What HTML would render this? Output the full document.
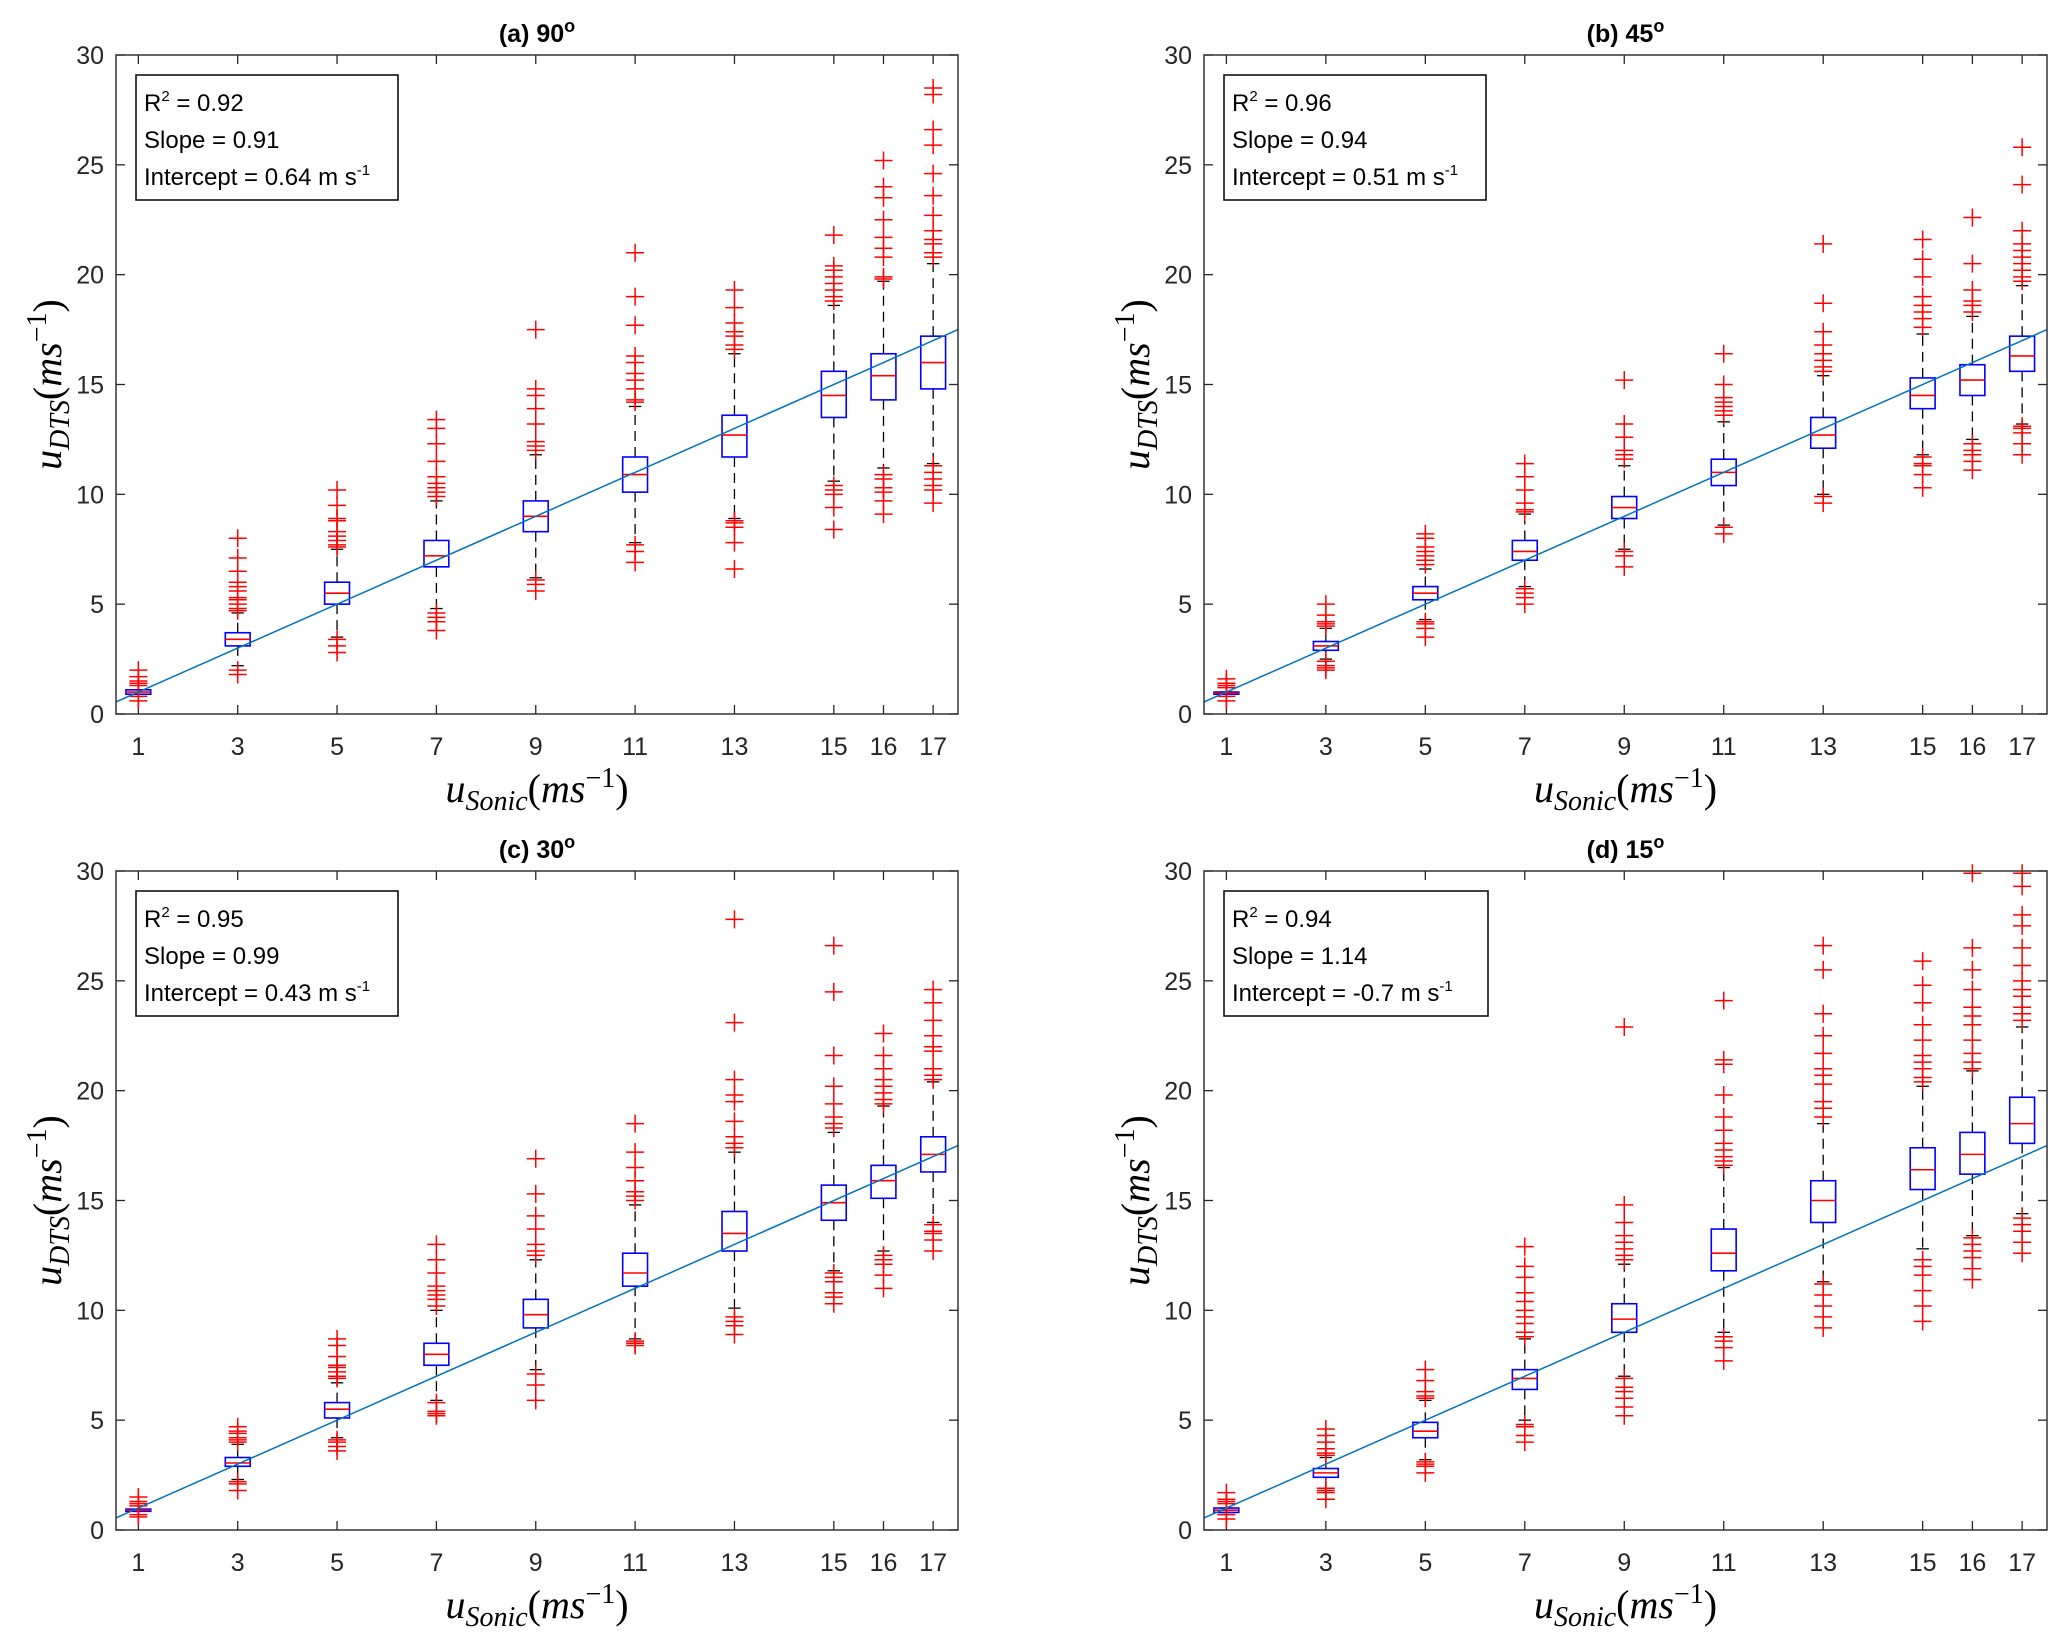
<!DOCTYPE html>
<html><head><meta charset="utf-8"><style>
html,body{margin:0;padding:0;background:#fff;}
svg{display:block;}
</style></head><body>
<svg id="fig" width="2067" height="1641" viewBox="0 0 2067 1641" xmlns="http://www.w3.org/2000/svg" font-family="Liberation Sans, sans-serif"></svg>
<script>
const cats = [1,3,5,7,9,11,13,15,16,17];
const yTicks = [0,5,10,15,20,25,30];
const titles = ["(a) 90","(b) 45","(c) 30","(d) 15"];
const r2Vals = ["0.92","0.96","0.95","0.94"];
const slopeVals = ["0.91","0.94","0.99","1.14"];
const interceptVals = ["0.64","0.51","0.43","-0.7"];
// panel a
const aQ1=[0.9,3.1,5.0,6.7,8.3,10.1,11.7,13.5,14.3,14.8];
const aMed=[1.0,3.4,5.5,7.2,9.0,10.9,12.7,14.5,15.4,16.0];
const aQ3=[1.1,3.7,6.0,7.9,9.7,11.7,13.6,15.6,16.4,17.2];
const aLo=[0.9,2.2,3.5,4.8,6.2,7.8,8.9,10.6,11.2,11.4];
const aHi=[1.1,4.6,7.5,9.7,11.8,14.0,16.4,18.6,19.7,20.5];
const aOut=[[0.6,0.8,1.3,1.4,1.5,1.7,2.0],[1.8,2.0,4.7,4.8,5.0,5.2,5.3,5.6,5.8,6.0,6.5,7.1,8.0],[2.8,3.1,3.4,7.6,7.7,7.9,8.1,8.3,8.8,8.9,9.5,10.2],[3.8,4.2,4.4,4.6,9.9,10.1,10.3,10.5,10.8,11.5,12.3,13.0,13.4],[5.6,5.9,6.1,12.0,12.2,12.4,13.2,13.9,14.5,14.8,17.5],[6.9,7.4,7.7,14.2,14.3,14.8,15.2,15.5,16.0,16.3,17.7,19.0,21.0],[6.6,7.8,8.5,8.7,8.8,16.6,16.8,17.2,17.4,17.8,18.5,19.3],[8.4,9.4,10.0,10.2,10.4,18.8,19.0,19.3,19.6,19.9,20.2,20.4,21.8],[9.1,9.7,10.1,10.3,10.7,10.9,19.8,19.9,20.8,21.2,21.7,22.5,23.5,24.0,25.2],[9.6,10.2,10.4,10.7,11.0,11.3,20.8,21.0,21.4,21.6,22.0,22.7,23.6,24.6,25.9,26.6,28.2,28.5]];
// panel b
const bQ1=[0.9,2.9,5.2,7.0,8.9,10.4,12.1,13.9,14.5,15.6];
const bMed=[0.95,3.1,5.5,7.4,9.4,11.0,12.7,14.5,15.2,16.3];
const bQ3=[1.0,3.3,5.8,7.9,9.9,11.6,13.5,15.3,15.9,17.2];
const bLo=[0.9,2.5,4.3,5.8,7.5,8.6,10.0,11.8,12.5,13.2];
const bHi=[1.0,3.9,6.6,9.1,11.3,13.3,15.4,17.3,18.1,19.5];
const bOut=[[0.6,0.8,1.2,1.3,1.4,1.6],[2.0,2.1,2.2,2.4,4.0,4.1,4.2,4.5,5.0],[3.5,3.9,4.1,4.2,6.8,7.0,7.2,7.4,7.6,8.0,8.2],[5.0,5.3,5.5,5.7,9.2,9.3,9.6,10.2,10.8,11.4],[6.7,7.2,7.4,11.6,11.8,12.0,12.6,13.2,15.2],[8.2,8.5,13.6,13.8,14.0,14.2,14.4,15.0,16.4],[9.6,9.9,15.6,15.8,16.1,16.4,16.8,17.4,18.7,21.4],[10.3,10.9,11.3,11.4,11.7,17.6,18.0,18.3,18.6,19.0,19.9,20.7,21.6],[11.1,11.5,11.8,12.0,12.3,18.3,18.6,18.8,19.3,20.5,22.6],[11.8,12.3,12.8,13.0,13.1,19.7,19.9,20.2,20.5,20.8,21.1,21.4,22.0,24.1,25.8]];
// panel c
const cQ1=[0.85,2.9,5.1,7.5,9.2,11.1,12.7,14.1,15.1,16.3];
const cMed=[0.9,3.05,5.5,8.0,9.8,11.7,13.5,14.9,15.9,17.1];
const cQ3=[0.95,3.3,5.8,8.5,10.5,12.6,14.5,15.7,16.6,17.9];
const cLo=[0.85,2.3,4.2,5.9,7.3,8.7,10.1,11.8,12.7,14.0];
const cHi=[0.95,3.9,6.7,10.0,12.3,14.8,17.2,18.1,19.3,20.4];
const cOut=[[0.6,0.7,1.1,1.2,1.3,1.5],[1.8,2.1,2.2,4.0,4.1,4.2,4.4,4.5,4.7],[3.6,3.8,4.0,4.1,6.9,7.0,7.2,7.4,7.5,7.9,8.4,8.7],[5.2,5.3,5.4,5.8,10.2,10.5,10.7,10.9,11.1,11.7,12.3,13.0],[5.9,6.6,7.1,12.5,12.7,13.0,13.7,14.3,15.3,16.9],[8.4,8.5,8.6,15.0,15.2,15.4,15.9,16.5,17.2,18.5],[8.9,9.3,9.5,9.7,17.4,17.6,17.9,18.6,19.5,19.8,20.5,23.1,27.8],[10.3,10.6,10.8,11.3,11.5,11.7,18.3,18.5,18.8,19.4,20.2,21.6,24.5,26.6],[11.0,11.6,12.1,12.3,12.5,19.4,19.6,19.9,20.2,20.5,21.0,21.6,22.6],[12.7,13.2,13.5,13.6,13.9,20.5,20.7,21.0,21.8,22.0,22.5,23.2,24.0,24.6]];
// panel d
const dQ1=[0.8,2.4,4.2,6.4,9.0,11.8,14.0,15.5,16.2,17.6];
const dMed=[0.9,2.6,4.5,6.9,9.6,12.6,15.0,16.4,17.1,18.5];
const dQ3=[1.0,2.8,4.9,7.3,10.3,13.7,15.9,17.4,18.1,19.7];
const dLo=[0.8,1.9,3.2,5.0,7.0,9.0,11.3,12.8,13.4,14.4];
const dHi=[1.0,3.3,5.9,8.7,12.1,16.5,18.5,20.2,20.9,22.9];
const dOut=[[0.5,0.7,1.2,1.3,1.4,1.7],[1.4,1.7,1.8,1.9,3.4,3.5,3.7,4.0,4.3,4.6],[2.6,2.9,3.0,3.1,6.0,6.1,6.3,6.8,7.3],[4.0,4.3,4.7,4.8,8.8,9.0,9.4,9.7,10.0,10.4,10.8,11.5,12.0,12.9],[5.2,5.6,6.0,6.3,6.5,6.9,12.3,12.5,12.8,13.1,13.4,14.0,14.8,22.9],[7.7,8.3,8.6,8.8,16.6,16.8,17.0,17.3,17.6,18.2,18.8,19.8,21.2,21.4,24.1],[9.2,9.7,10.2,10.7,11.2,18.8,19.2,19.5,20.3,20.7,21.0,21.7,22.5,23.5,25.5,26.6],[9.5,10.2,10.9,11.6,12.0,12.3,20.4,20.6,21.0,21.3,21.6,22.3,23.0,24.0,24.8,25.9],[11.4,11.9,12.4,12.7,13.0,13.3,21.0,21.3,21.7,22.3,23.0,23.4,23.8,24.6,25.5,26.5,29.9],[12.6,13.1,13.6,13.9,14.2,23.2,23.5,23.8,24.3,24.6,25.0,25.7,26.5,27.5,28.0,29.3,29.9]];

const panels=[
 {L:116,R:958,T:55,B:714,q1:aQ1,med:aMed,q3:aQ3,lo:aLo,hi:aHi,out:aOut},
 {L:1204,R:2047,T:55,B:714,q1:bQ1,med:bMed,q3:bQ3,lo:bLo,hi:bHi,out:bOut},
 {L:116,R:958,T:871,B:1530,q1:cQ1,med:cMed,q3:cQ3,lo:cLo,hi:cHi,out:cOut},
 {L:1204,R:2047,T:871,B:1530,q1:dQ1,med:dMed,q3:dQ3,lo:dLo,hi:dHi,out:dOut}
];
const XMIN=0.55, XMAX=17.5, YMIN=0, YMAX=30;
const NS="http://www.w3.org/2000/svg";
const svg=document.getElementById('fig');
function mk(tag,attrs,parent){const e=document.createElementNS(NS,tag);for(const k in attrs)e.setAttribute(k,attrs[k]);(parent||svg).appendChild(e);return e;}
const SERIF='"Liberation Serif", "DejaVu Serif", serif';

panels.forEach((p,pi)=>{
  const g=mk('g',{});
  
  
  const sx=v=>p.L+(v-XMIN)/(XMAX-XMIN)*(p.R-p.L);
  const sy=v=>p.B-(v-YMIN)/(YMAX-YMIN)*(p.B-p.T);
  const clip='clip'+pi;
  const cp=mk('clipPath',{id:clip},g);mk('rect',{x:p.L,y:p.T,width:p.R-p.L,height:p.B-p.T},cp);
  yTicks.forEach(t=>{
    mk('line',{x1:p.L,x2:p.L+9,y1:sy(t),y2:sy(t),stroke:'#262626','stroke-width':1.3},g);
    mk('line',{x1:p.R,x2:p.R-9,y1:sy(t),y2:sy(t),stroke:'#262626','stroke-width':1.3},g);
    const tl=mk('text',{x:p.L-12,y:sy(t)+9,'text-anchor':'end','font-size':25,fill:'#262626'},g);
    tl.textContent=t;
    
    
  });
  cats.forEach(c=>{
    mk('line',{x1:sx(c),x2:sx(c),y1:p.B,y2:p.B-9,stroke:'#262626','stroke-width':1.3},g);
    mk('line',{x1:sx(c),x2:sx(c),y1:p.T,y2:p.T+9,stroke:'#262626','stroke-width':1.3},g);
    const tl=mk('text',{x:sx(c),y:p.B+41,'text-anchor':'middle','font-size':25,fill:'#262626'},g);
    tl.textContent=c;
    
    
  });
  const hw=0.25;
  cats.forEach((c,i)=>{
    const bg=mk('g',{},g);
    
    
    const x=sx(c), w=sx(c+hw)-sx(c);
    mk('line',{x1:x,x2:x,y1:sy(p.q3[i]),y2:sy(p.hi[i]),stroke:'#000','stroke-width':1.3,'stroke-dasharray':'10,6'},bg);
    mk('line',{x1:x,x2:x,y1:sy(p.q1[i]),y2:sy(p.lo[i]),stroke:'#000','stroke-width':1.3,'stroke-dasharray':'10,6'},bg);
    mk('line',{x1:x-w/2,x2:x+w/2,y1:sy(p.hi[i]),y2:sy(p.hi[i]),stroke:'#000','stroke-width':1.3},bg);
    mk('line',{x1:x-w/2,x2:x+w/2,y1:sy(p.lo[i]),y2:sy(p.lo[i]),stroke:'#000','stroke-width':1.3},bg);
    mk('rect',{x:x-w,y:sy(p.q3[i]),width:2*w,height:Math.max(sy(p.q1[i])-sy(p.q3[i]),2),fill:'none',stroke:'#0000ff','stroke-width':1.6},bg);
    mk('line',{x1:x-w,x2:x+w,y1:sy(p.med[i]),y2:sy(p.med[i]),stroke:'#ff0000','stroke-width':1.6},bg);
    p.out[i].forEach(v=>{
      const y=sy(v);
      const o=mk('path',{d:`M${x-9},${y}H${x+9}M${x},${y-9}V${y+9}`,stroke:'#ff0000','stroke-width':1.5,fill:'none'},bg);
      
      
    });
  });
  const fl=mk('line',{x1:sx(XMIN),y1:sy(XMIN),x2:sx(XMAX),y2:sy(XMAX),stroke:'#0072bd','stroke-width':1.5,'clip-path':`url(#${clip})`},g);
  
  
  mk('rect',{x:p.L,y:p.T,width:p.R-p.L,height:p.B-p.T,fill:'none',stroke:'#262626','stroke-width':1.4},g);
  const t=mk('text',{x:(p.L+p.R)/2,y:p.T-13,'text-anchor':'middle','font-size':25,'font-weight':'bold',fill:'#000'},g);
  t.innerHTML=titles[pi]+'<tspan dy="-10" font-size="18">o</tspan>';
  
  
  const bx=p.L+20, by=p.T+20;
  const sb=mk('g',{},g);
  
  
  mk('rect',{x:bx,y:by,width:pi==3?264:262,height:125,fill:'#fff',stroke:'#000','stroke-width':1.5},sb);
  const l1=mk('text',{x:bx+8,y:by+36,'font-size':24,fill:'#000'},sb);
  l1.innerHTML='R<tspan dy="-10" font-size="15">2</tspan><tspan dy="10"> = '+r2Vals[pi]+'</tspan>';
  const l2=mk('text',{x:bx+8,y:by+73,'font-size':24,fill:'#000'},sb);
  l2.textContent='Slope = '+slopeVals[pi];
  const l3=mk('text',{x:bx+8,y:by+110,'font-size':24,fill:'#000'},sb);
  l3.innerHTML='Intercept = '+interceptVals[pi]+' m s<tspan dy="-10" font-size="15">-1</tspan>';
  const xl=mk('text',{x:(p.L+p.R)/2,y:p.B+88,'text-anchor':'middle','font-size':40,'font-style':'italic','font-family':SERIF,fill:'#000'},g);
  xl.innerHTML='u<tspan dy="8" font-size="28">Sonic</tspan><tspan dy="-8" font-style="normal">(</tspan>ms<tspan dy="-15" font-size="28" font-style="normal">−1</tspan><tspan dy="15" font-style="normal">)</tspan>';
  
  
  const cy=(p.T+p.B)/2, cx=p.L-55;
  const yl=mk('text',{x:cx,y:cy,'text-anchor':'middle','font-size':40,'font-style':'italic','font-family':SERIF,fill:'#000',transform:`rotate(-90 ${cx} ${cy})`},g);
  yl.innerHTML='u<tspan dy="8" font-size="28">DTS</tspan><tspan dy="-8" font-style="normal">(</tspan>ms<tspan dy="-15" font-size="28" font-style="normal">−1</tspan><tspan dy="15" font-style="normal">)</tspan>';
  
  
});
</script>
</body></html>
